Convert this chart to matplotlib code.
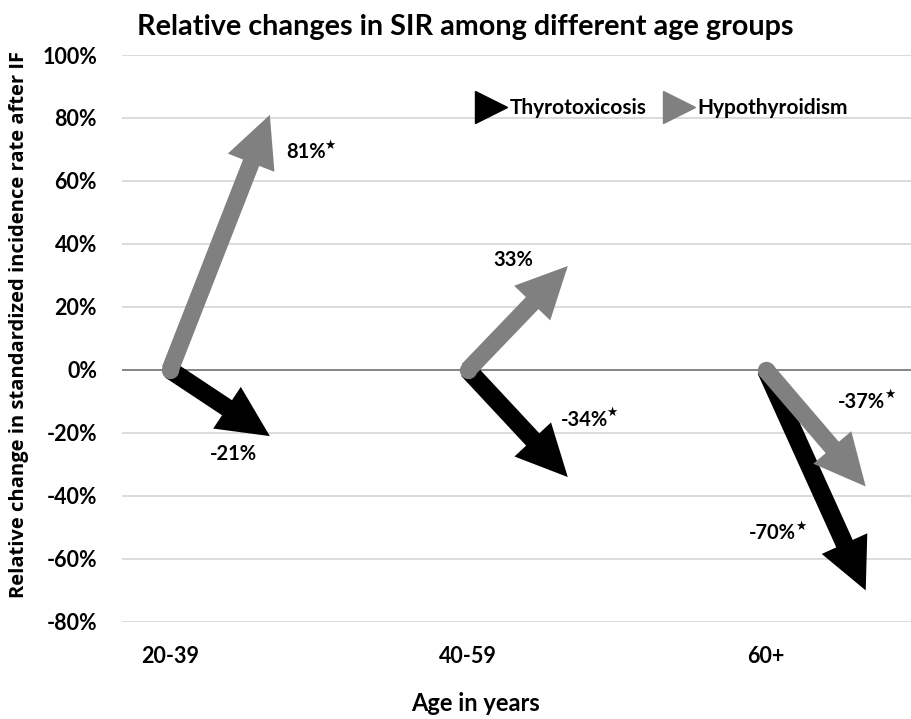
import matplotlib
matplotlib.use("Agg")
import matplotlib.pyplot as plt
from matplotlib.lines import Line2D

plt.rcParams['font.family'] = ['Lato', 'DejaVu Sans']
plt.rcParams['font.weight'] = 'bold'

categories = ["20-39", "40-59", "60+"]
thyro = [-0.21, -0.34, -0.70]
hypo = [0.81, 0.33, -0.37]
thyro_labels = ["-21%", "-34%", "-70%"]
hypo_labels = ["81%", "33%", "-37%"]
thyro_star = [False, True, True]
hypo_star = [True, False, True]
yticks = [-0.8, -0.6, -0.4, -0.2, 0.0, 0.2, 0.4, 0.6, 0.8, 1.0]

BLACK = "#000000"
GRAY = "#808080"
dx = 0.335

fig = plt.figure(figsize=(9.11, 7.19), dpi=100)
ax = fig.add_axes([0.134, 0.135, 0.866, 0.7885])
ax.set_ylim(-0.8, 1.0)
ax.set_xlim(-0.161, 2.487)
ax.set_yticks(yticks)
ax.set_yticklabels([f"{int(round(v*100))}%" for v in yticks], fontsize=15.5, fontweight='bold')
ax.set_xticks(range(len(categories)))
ax.set_xticklabels(categories, fontsize=15.5, fontweight='bold')
ax.tick_params(length=0)
ax.tick_params(axis='x', pad=17)
ax.tick_params(axis='y', pad=18)
for s in ax.spines.values():
    s.set_visible(False)
ax.grid(axis='y', color='#d9d9d9', linewidth=1.3)
ax.set_axisbelow(True)
ax.axhline(0, color='#868686', linewidth=1.4, zorder=1)

def arrow(x0, y0, x1, y1, color, tw, z, cap):
    ax.annotate("", xy=(x1, y1), xytext=(x0, y0),
                arrowprops=dict(arrowstyle=f"simple,head_length=37,head_width=36,tail_width={tw}",
                                mutation_scale=1, color=color, shrinkA=0, shrinkB=0,
                                linewidth=0), zorder=z)
    if cap:
        ax.plot([x0], [y0], marker='o', markersize=tw, color=color,
                markeredgewidth=0, zorder=z + 0.1)

for i in range(len(categories)):
    arrow(i, 0, i + dx, thyro[i], BLACK, 13, 3, False)
for i in range(len(categories)):
    arrow(i, 0, i + dx, hypo[i], GRAY, 12.5, 4, True)

# value labels (offsets in points relative to arrow tips)
hypo_off = [(26, -27), (-39, 4), (-3, 61)]
thyro_off = [(-26, -13), (12, 41), (-67, 41)]

def label(x, y, txt, off, star):
    t = ax.annotate(txt, xy=(x, y), xytext=off, textcoords='offset points',
                    ha='center', va='center', fontsize=14.5, fontweight='bold', zorder=6)
    if star:
        ax.annotate("\u2605", xy=(1, 1), xycoords=t, xytext=(-1, -2),
                    textcoords='offset points', ha='left', va='center',
                    fontsize=9, family='DejaVu Sans', zorder=6)

for i in range(len(categories)):
    label(i + dx, hypo[i], hypo_labels[i], hypo_off[i], hypo_star[i])
    label(i + dx, thyro[i], thyro_labels[i], thyro_off[i], thyro_star[i])

handles = [Line2D([], [], marker='>', color=BLACK, linestyle='none', markersize=23),
           Line2D([], [], marker='>', color=GRAY, linestyle='none', markersize=23)]
ax.legend(handles, ["Thyrotoxicosis", "Hypothyroidism"], ncol=2, frameon=False,
          loc='center', bbox_to_anchor=(0.685, 0.9065),
          handletextpad=0.25, columnspacing=0.9, handlelength=1.3,
          prop={'weight': 'bold', 'size': 15})

fig.text(0.511, 0.962, "Relative changes in SIR among different age groups",
         ha='center', va='center', fontsize=20.7, fontweight='bold')
fig.text(0.522, 0.022, "Age in years", ha='center', va='center', fontsize=17, fontweight='bold')
fig.text(0.021, 0.549, "Relative change in standardized incidence rate after IF",
         ha='center', va='center', rotation=90, fontsize=14.5, fontweight='bold',
         family=['Open Sans', 'DejaVu Sans'])

fig.savefig("out.png", dpi=100)
